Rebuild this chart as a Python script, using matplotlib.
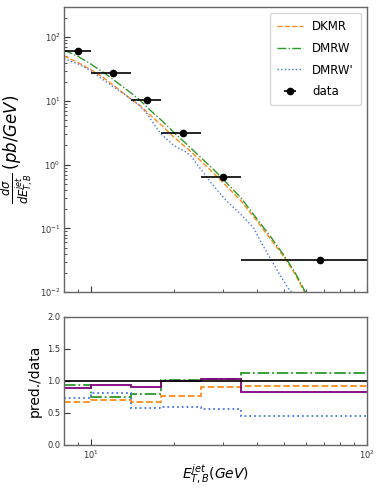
import matplotlib
matplotlib.use("Agg")
import matplotlib.pyplot as plt
import numpy as np

# data points (bin edges and measured cross sections)
bin_edges = [8, 10, 14, 18, 25, 35, 100]
data_x = [9, 12, 16, 21.5, 30, 67.5]
data_y = [61, 27.9, 10.5, 3.14, 0.645, 0.032]

# model curves
dkmr_x = [8, 9, 10, 11, 12, 13.5, 15, 16.5, 18, 20, 22.5, 25, 28, 31, 35, 40, 45, 50, 55, 60]
dkmr_y = [51, 40, 31, 24, 18, 12, 8.6, 5.9, 4.2, 2.7, 1.75, 1.15, 0.72, 0.46, 0.27, 0.13,
          0.066, 0.036, 0.019, 0.0092]
dmrw_x = [8, 9, 10, 11, 12, 13.5, 15, 16.5, 18, 20, 22.5, 25, 28, 31, 35, 40, 45, 50, 55, 60]
dmrw_y = [63, 50, 38, 29, 22, 15, 10.5, 7.0, 5.0, 3.2, 2.0, 1.3, 0.82, 0.52, 0.30, 0.14,
          0.072, 0.038, 0.020, 0.0098]
dmrwp_x = [8, 9, 10, 11, 12, 13.5, 15, 16, 17, 18, 20, 22, 23, 25, 28, 31, 35, 39, 41, 45, 49, 52, 54]
dmrwp_y = [46, 38, 30, 22, 17, 12, 8.5, 6.3, 4.2, 3.0, 2.0, 1.6, 1.38, 0.85, 0.45, 0.27, 0.165,
           0.10, 0.065, 0.032, 0.017, 0.0113, 0.0095]

# ratios pred./data per bin
ratio_dkmr = [0.67, 0.707, 0.665, 0.763, 0.903, 0.92]
ratio_dmrw = [0.935, 0.748, 0.79, 1.008, 1.023, 1.117]
ratio_dmrwp = [0.733, 0.81, 0.582, 0.587, 0.556, 0.452]
ratio_other = [0.893, 0.93, 0.903, 0.992, 1.028, 0.826]

c_or = "#ff8c1a"
c_gr = "#2a9a2a"
c_bl = "#4a74e8"
spine_c = "#666666"

fig = plt.figure(figsize=(3.81, 4.9), dpi=100)
ax1 = fig.add_axes([0.168, 0.404, 0.795, 0.582])
ax2 = fig.add_axes([0.168, 0.092, 0.795, 0.262])

ax1.plot(dkmr_x, dkmr_y, ls="--", color=c_or, lw=1.0, label="DKMR")
ax1.plot(dmrw_x, dmrw_y, ls="-.", color=c_gr, lw=1.0, label="DMRW")
ax1.plot(dmrwp_x, dmrwp_y, ls=":", color=c_bl, lw=1.0, label="DMRW'")
xerr = [np.array(data_x) - np.array(bin_edges[:-1]), np.array(bin_edges[1:]) - np.array(data_x)]
ax1.errorbar(data_x, data_y, xerr=xerr, fmt="o", color="black", ms=4.5, lw=1.2, label="data")
ax1.set_xscale("log")
ax1.set_yscale("log")
ax1.set_xlim(8, 100)
ax1.set_ylim(0.01, 300)
ax1.set_ylabel(r"$\frac{d\sigma}{dE_{T,B}^{jet}}\,(pb/GeV)$", fontsize=12, labelpad=3)
ax1.tick_params(axis="x", which="both", labelbottom=False)
ax1.legend(loc="upper right", fontsize=8.5, handlelength=2.2, borderpad=0.6,
           labelspacing=0.75, edgecolor="#cccccc")

for s, ls, c in [(ratio_dkmr, "--", c_or), (ratio_dmrw, "-.", c_gr), (ratio_dmrwp, ":", c_bl)]:
    ax2.stairs(s, bin_edges, color=c, ls=ls, lw=1.3, baseline=None)
ax2.stairs(ratio_other, bin_edges, color="purple", lw=1.3, baseline=None)
ax2.axhline(1.0, color="black", lw=1.2)
ax2.set_xscale("log")
ax2.set_xlim(8, 100)
ax2.set_ylim(0, 2)
ax2.set_yticks([0, 0.5, 1.0, 1.5, 2.0])
ax2.set_ylabel("pred./data", fontsize=10)
ax2.set_xlabel(r"$E_{T,B}^{jet}(GeV)$", fontsize=10, labelpad=1)

for ax in (ax1, ax2):
    ax.tick_params(which="both", direction="in", labelsize=6, colors="#333333",
                   top=False, right=False, pad=2.5)
    ax.tick_params(which="major", length=4)
    ax.tick_params(which="minor", length=2.5)
    for sp in ax.spines.values():
        sp.set_color(spine_c)
        sp.set_linewidth(1.0)

fig.savefig("out.png", dpi=100)
